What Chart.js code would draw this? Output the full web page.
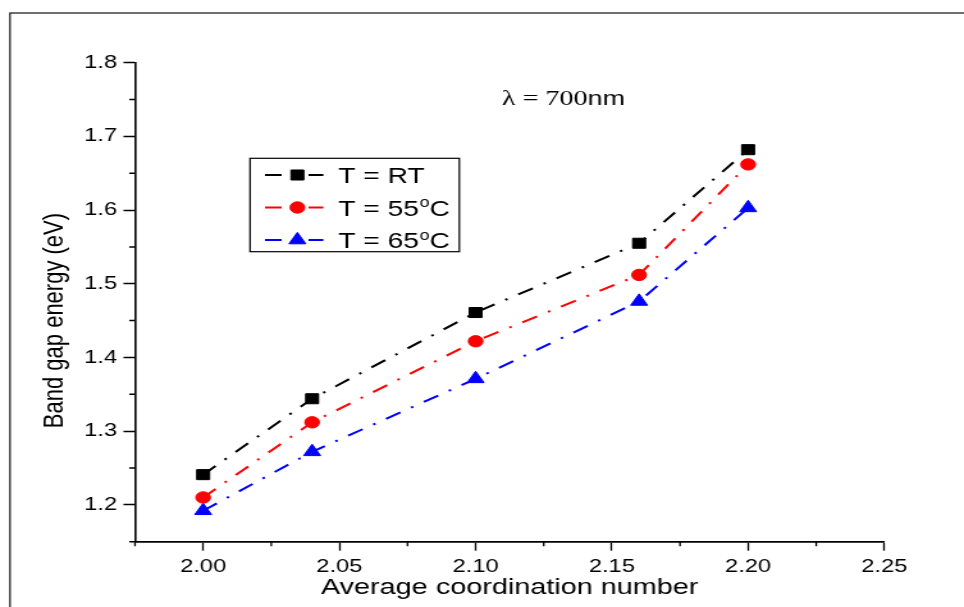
<!DOCTYPE html>
<html>
<head>
<meta charset="utf-8">
<title>Band gap energy vs average coordination number</title>
<script src="https://cdn.jsdelivr.net/npm/chart.js@4.4.1/dist/chart.umd.min.js"></script>
<style>
    html, body { margin: 0; padding: 0; background: #fff; overflow: hidden; }
    /* the original figure is stretched sideways, so draw narrow and widen it */
    #Stage { width: 753px; height: 607px; transform: scaleX(1.2802); transform-origin: 0 0; }
</style>
</head>
<body>
<div id="Stage"><canvas id="BandGapChart"></canvas></div>
<script>
// data
const coordinationNumbers = [2.00, 2.04, 2.10, 2.16, 2.20];
const bandGapRT = [1.241, 1.344, 1.461, 1.555, 1.682];
const bandGap55 = [1.210, 1.312, 1.422, 1.512, 1.662];
const bandGap65 = [1.192, 1.272, 1.371, 1.476, 1.603];
const seriesLabels = ['T = RT', 'T = 55°C', 'T = 65°C'];
const xTickValues = [2.00, 2.05, 2.10, 2.15, 2.20, 2.25];
const yTickValues = [1.2, 1.3, 1.4, 1.5, 1.6, 1.7, 1.8];
const xRange = [1.975, 2.25];
const yRange = [1.15, 1.8];
const xTitle = 'Average coordination number';
const yTitle = 'Band gap energy (eV)';
const waveLabel = ['λ = 700', 'nm'];

const SansFamily = "'Liberation Sans', Arial, Helvetica, sans-serif";
const SerifFamily = "'Liberation Serif', 'Times New Roman', serif";

const Layout = {
    width: 753,
    height: 607,
    plotLeft: 105.45,
    plotRight: 690.8,
    plotTop: 62.7,
    plotBottom: 541.7,
    minorTick: 4.5,
};

const LegendBox = {
    left: 195.3, top: 158.3, width: 163.5, height: 93.4,
    firstRow: 175, rowGap: 32.5,
    lineStart: 207, lineEnd: 252.6, markerX: 232.3, textX: 264.3,
};

// midpoints between labelled ticks, plus the one at the axis start
function minorValues(ticks, start) {
    let out = [start];
    for (let i = 0; i < ticks.length - 1; i++) {
        out.push((ticks[i] + ticks[i + 1]) / 2);
    }
    return out;
}
const xMinor = minorValues(xTickValues, xRange[0]);
const yMinor = minorValues(yTickValues, yRange[0]);

function toPoints(ys) {
    return coordinationNumbers.map((x, i) => ({x: x, y: ys[i]}));
}

const lineDash = [13, 9.5, 2, 9.5];

const frameBoxPlugin = {
    id: 'frameBox',
    beforeDraw(chart) {
        const ctx = chart.ctx;
        ctx.save();
        ctx.fillStyle = '#fff';
        ctx.fillRect(0, 0, chart.width, chart.height);
        ctx.strokeStyle = '#111';
        ctx.lineWidth = 1.2;
        ctx.strokeRect(7.8, 13, chart.width + 20, chart.height + 20);
        ctx.restore();
    }
};

const minorTickPlugin = {
    id: 'minorTicks',
    afterDraw(chart) {
        const {ctx, scales: {x, y}} = chart;
        ctx.save();
        ctx.strokeStyle = '#000';
        ctx.lineWidth = 1.3;
        ctx.beginPath();
        for (let v of xMinor) {
            let px = x.getPixelForValue(v);
            ctx.moveTo(px, x.top);
            ctx.lineTo(px, x.top + Layout.minorTick);
        }
        ctx.stroke();
        ctx.lineWidth = 1.5;
        ctx.beginPath();
        for (let v of yMinor) {
            let py = y.getPixelForValue(v);
            ctx.moveTo(y.right, py);
            ctx.lineTo(y.right - Layout.minorTick, py);
        }
        ctx.stroke();
        ctx.restore();
    }
};

// legend drawn by hand because of the superscript "o" in the labels
const legendPlugin = {
    id: 'boxLegend',
    afterDraw(chart) {
        const ctx = chart.ctx;
        ctx.save();
        ctx.strokeStyle = '#000';
        ctx.lineWidth = 1.2;
        ctx.setLineDash([]);
        ctx.strokeRect(LegendBox.left, LegendBox.top, LegendBox.width, LegendBox.height);

        chart.data.datasets.forEach((ds, i) => {
            let rowY = LegendBox.firstRow + i * LegendBox.rowGap;
            ctx.strokeStyle = ds.borderColor;
            ctx.lineWidth = ds.borderWidth;
            ctx.setLineDash(ds.borderDash);
            ctx.beginPath();
            ctx.moveTo(LegendBox.lineStart, rowY);
            ctx.lineTo(LegendBox.lineEnd, rowY);
            ctx.stroke();

            ctx.setLineDash([]);
            ctx.fillStyle = ds.pointBackgroundColor;
            ctx.strokeStyle = ds.pointBorderColor;
            ctx.lineWidth = 1;
            Chart.helpers.drawPoint(ctx, {
                pointStyle: ds.pointStyle,
                radius: ds.pointRadius,
                rotation: 0,
                borderWidth: 1
            }, LegendBox.markerX, rowY);

            // label text, "°" becomes a raised small o
            ctx.fillStyle = '#000';
            ctx.textBaseline = 'alphabetic';
            let parts = ds.label.split('°');
            let tx = LegendBox.textX;
            let base = rowY + 8.3;
            ctx.font = '22px ' + SansFamily;
            ctx.fillText(parts[0], tx, base);
            tx += ctx.measureText(parts[0]).width;
            if (parts.length > 1) {
                ctx.font = '14px ' + SansFamily;
                ctx.fillText('o', tx + 0.5, base - 8.6);
                tx += ctx.measureText('o').width + 0.5;
                ctx.font = '22px ' + SansFamily;
                ctx.fillText(parts[1], tx, base);
            }
        });
        ctx.restore();
    }
};

const wavelengthPlugin = {
    id: 'wavelength',
    afterDraw(chart) {
        const ctx = chart.ctx;
        ctx.save();
        ctx.fillStyle = '#000';
        ctx.textBaseline = 'alphabetic';
        let x = 392;
        ctx.font = '22px ' + SerifFamily;
        ctx.fillText(waveLabel[0], x, 105);
        x += ctx.measureText(waveLabel[0]).width;
        ctx.font = '21px ' + SansFamily;
        ctx.fillText(waveLabel[1], x, 105);
        ctx.restore();
    }
};

function makeDataset(label, values, color, style, radius) {
    return {
        label: label,
        data: toPoints(values),
        borderColor: color,
        backgroundColor: color,
        borderWidth: 2,
        borderDash: lineDash,
        pointStyle: style,
        pointRadius: radius,
        pointBackgroundColor: color,
        pointBorderColor: color,
        pointBorderWidth: 1,
        tension: 0,
        fill: false,
    };
}

function setUpChart() {
    const tickFont = {family: SansFamily, size: 18.5};
    new Chart(document.getElementById('BandGapChart'), {
        type: 'line',
        data: {
            datasets: [
                makeDataset(seriesLabels[0], bandGapRT, '#000000', 'rect', 7.1),
                makeDataset(seriesLabels[1], bandGap55, '#ff0000', 'circle', 5.7),
                makeDataset(seriesLabels[2], bandGap65, '#0000ff', 'triangle', 7.6),
            ]
        },
        options: {
            responsive: true,
            maintainAspectRatio: false,
            animation: false,
            devicePixelRatio: 1,
            layout: {
                padding: {
                    top: Layout.plotTop,
                    right: Layout.width - Layout.plotRight,
                    bottom: 0,
                    left: 0
                }
            },
            plugins: {
                legend: {display: false},
                tooltip: {enabled: false},
                title: {display: false}
            },
            scales: {
                x: {
                    type: 'linear',
                    min: xRange[0],
                    max: xRange[1],
                    afterBuildTicks: s => { s.ticks = xTickValues.map(v => ({value: v})); },
                    afterFit: s => { s.height = Layout.height - Layout.plotBottom; },
                    ticks: {
                        callback: v => Number(v).toFixed(2),
                        font: tickFont,
                        color: '#000',
                        padding: 5,
                        maxRotation: 0,
                        autoSkip: false
                    },
                    grid: {
                        drawOnChartArea: false,
                        drawTicks: true,
                        tickLength: 9,
                        tickWidth: 1.3,
                        tickColor: '#000'
                    },
                    border: {display: true, color: '#000', width: 1.8},
                    title: {
                        display: true,
                        text: xTitle,
                        color: '#000',
                        font: {family: SansFamily, size: 22.5},
                        padding: {top: 0, bottom: 6}
                    }
                },
                y: {
                    type: 'linear',
                    min: yRange[0],
                    max: yRange[1],
                    afterBuildTicks: s => { s.ticks = yTickValues.map(v => ({value: v})); },
                    afterFit: s => { s.width = Layout.plotLeft; },
                    ticks: {
                        callback: v => Number(v).toFixed(1),
                        font: tickFont,
                        color: '#000',
                        padding: 5,
                        autoSkip: false
                    },
                    grid: {
                        drawOnChartArea: false,
                        drawTicks: true,
                        tickLength: 9,
                        tickWidth: 1.5,
                        tickColor: '#000'
                    },
                    border: {display: true, color: '#000', width: 1.6},
                    title: {
                        display: true,
                        text: yTitle + '      ',
                        color: '#000',
                        font: {family: SansFamily, size: 22},
                        padding: {top: 30, bottom: 0}
                    }
                }
            }
        },
        plugins: [frameBoxPlugin, minorTickPlugin, legendPlugin, wavelengthPlugin]
    });
}

window.addEventListener('load', function () {
    setUpChart();
});
</script>
</body>
</html>
